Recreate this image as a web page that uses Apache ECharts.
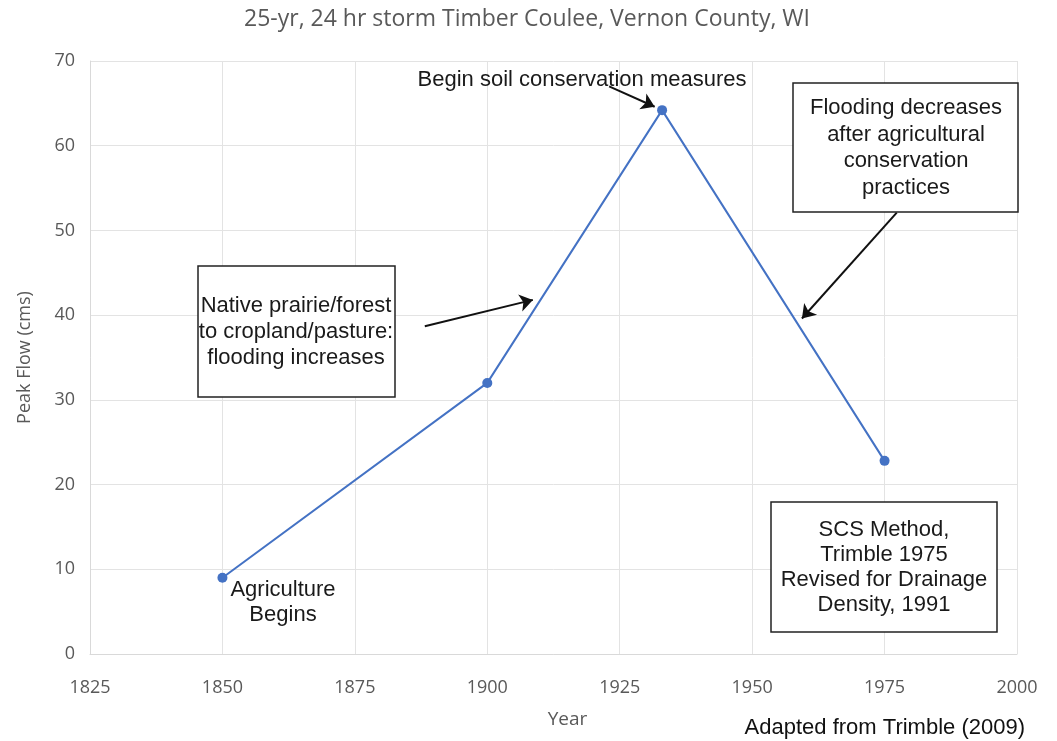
<!DOCTYPE html>
<html>
<head>
<meta charset="utf-8">
<script src="https://cdn.jsdelivr.net/npm/echarts@6/dist/echarts.min.js"></script>
<style>
html, body { margin: 0; padding: 0; background: #fff; }
#cva { width: 1057px; height: 741px; }
</style>
</head>
<body>
<div id="cva"></div>
<script>
// data
var years = [1850, 1900, 1933, 1975];
var peakFlow = [9.0, 32.0, 64.2, 22.8];
var xTicks = [1825, 1850, 1875, 1900, 1925, 1950, 1975, 2000];
var yTicks = [0, 10, 20, 30, 40, 50, 60, 70];
// arrows: [from, to] in data units
var arrows = [
    [[1923, 67.0], [1931.6, 64.6]],
    [[1888.2, 38.7], [1908.6, 41.8]],
    [[1977.3, 52.1], [1959.4, 39.6]]
];

var cva = echarts.init(document.getElementById('cva'));
var boxFamily = '"Liberation Sans", Arial, sans-serif';
var axisFont = '"Open Sans", sans-serif';

function box(x, y, w, h) {
    return {
        type: 'rect',
        shape: {x: x, y: y, width: w, height: h},
        style: {fill: '#fff', stroke: '#222', lineWidth: 1.5},
        z: 10
    };
}
// centred block of lines, one text element per line
function label(x, yMid, lines, lh) {
    lh = lh || 26;
    var top = yMid - (lines.length - 1) * lh / 2;
    return {
        type: 'group',
        z: 11,
        children: lines.map(function (t, i) {
            return {
                type: 'text',
                x: x, y: top + i * lh,
                z: 11,
                style: {
                    text: t, fontSize: 22, fontFamily: boxFamily, fill: '#1a1a1a',
                    align: 'center', verticalAlign: 'middle'
                }
            };
        })
    };
}

option = {
    backgroundColor: '#ffffff',
    title: {
        text: '25-yr, 24 hr storm Timber Coulee, Vernon County, WI',
        left: 522, top: 3, textAlign: 'center',
        textStyle: {color: '#595959', fontSize: 23, fontWeight: 'normal', fontFamily: axisFont}
    },
    grid: {left: 90, right: 40, top: 61, bottom: 87},
    xAxis: {
        type: 'value',
        min: xTicks[0], max: xTicks[xTicks.length - 1], interval: 25,
        name: 'Year', nameLocation: 'middle', nameGap: 56,
        nameTextStyle: {color: '#595959', fontSize: 19, fontFamily: axisFont, padding: [0, 0, 0, 28]},
        axisLine: {lineStyle: {color: '#d9d9d9'}},
        axisTick: {show: false},
        axisLabel: {color: '#595959', fontSize: 18, margin: 25, fontFamily: axisFont,
            formatter: function (v) { return String(v); }},
        splitLine: {lineStyle: {color: '#e3e3e3'}}
    },
    yAxis: {
        type: 'value',
        min: yTicks[0], max: yTicks[yTicks.length - 1], interval: 10,
        name: 'Peak Flow (cms)', nameLocation: 'middle', nameGap: 56,
        nameTextStyle: {color: '#595959', fontSize: 18, fontFamily: axisFont},
        axisLine: {show: true, lineStyle: {color: '#d9d9d9'}},
        axisTick: {show: false},
        axisLabel: {color: '#595959', fontSize: 18, margin: 15, fontFamily: axisFont},
        splitLine: {lineStyle: {color: '#e3e3e3'}}
    },
    series: [{
        type: 'line',
        data: years.map(function (y, i) { return [y, peakFlow[i]]; }),
        symbol: 'circle', symbolSize: 10,
        lineStyle: {color: '#4472c4', width: 2},
        itemStyle: {color: '#4472c4'},
        markLine: {
            silent: true,
            animation: false,
            symbolSize: 13,
            label: {show: false},
            lineStyle: {color: '#111', width: 2, type: 'solid'},
            data: arrows.map(function (a) {
                return [{coord: a[0], symbol: 'none'}, {coord: a[1], symbol: 'arrow'}];
            })
        },
        z: 5
    }],
    graphic: [
        box(198, 266, 197, 131),
        label(296, 332, ['Native prairie/forest', 'to cropland/pasture:', 'flooding increases'], 26),
        box(793, 83, 225, 129),
        label(906, 148, ['Flooding decreases', 'after agricultural', 'conservation', 'practices'], 26.5),
        box(771, 502, 226, 130),
        label(884, 567, ['SCS Method,', 'Trimble 1975', 'Revised for Drainage', 'Density, 1991'], 25),
        label(283, 602, ['Agriculture', 'Begins'], 25),
        label(582, 80, ['Begin soil conservation measures']),
        {
            type: 'text', x: 1025, y: 728,
            style: {text: 'Adapted from Trimble (2009)', fontSize: 22, fontFamily: boxFamily, fill: '#111',
                align: 'right', verticalAlign: 'middle'}
        }
    ]
};
cva.setOption(option);
</script>
</body>
</html>
